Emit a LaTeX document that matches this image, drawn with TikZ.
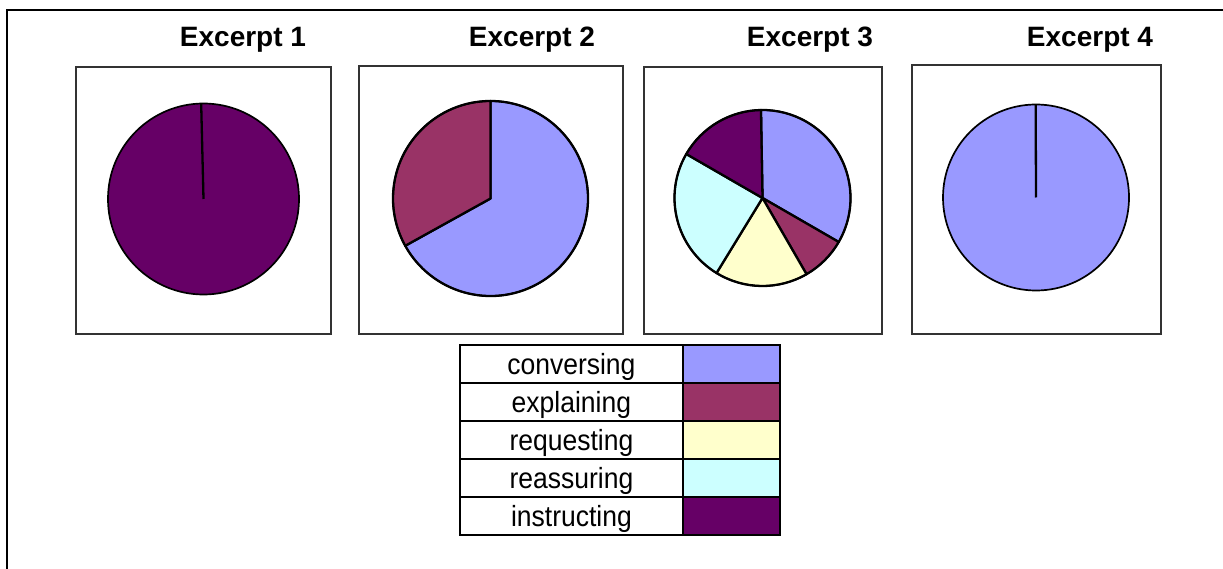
\documentclass[tikz,border=0pt]{standalone}
\usepackage{fontspec}
\usepackage{graphicx}
\setmainfont{Liberation Sans}
\definecolor{conversing}{HTML}{9999FF}
\definecolor{explaining}{HTML}{993366}
\definecolor{requesting}{HTML}{FFFFCC}
\definecolor{reassuring}{HTML}{CCFFFF}
\definecolor{instructing}{HTML}{660066}
% one slice of a pie: centre, radius, start angle, end angle, colour
\newcommand{\pieslice}[5]{%
  \filldraw[slice, fill=#5] (#1) -- ++(#3:#2) arc[start angle=#3, end angle=#4, radius=#2] -- cycle;}
% legend label, set slightly tall
\newcommand{\leglabel}[1]{\scalebox{1}[1.1]{#1}}
\begin{document}
\begin{tikzpicture}[x=1pt, y=1pt,
  frame/.style={line width=2pt, black},
  panel/.style={draw=black!80, line width=1.3pt, fill=white},
  title/.style={font=\fontsize{28}{30}\selectfont\bfseries, anchor=base, inner sep=0pt},
  slice/.style={draw=black, line width=2.3pt, line join=round},
  rim/.style={draw=black, line width=1.7pt},
  legcell/.style={draw=black, line width=1.8pt, fill=white, minimum width=223pt, minimum height=38pt,
    inner sep=0pt, anchor=north west},
  legtext/.style={font=\fontsize{26.5}{28}\selectfont, anchor=base, inner sep=0pt},
  legswatch/.style={draw=black, line width=1.8pt, minimum width=97pt, minimum height=38pt,
    inner sep=0pt, anchor=north west}]
\useasboundingbox (0,0) rectangle (1223,-569);

% outer frame (only its left and top sides fall inside the page)
\draw[frame] (7,-569) -- (7,-10) -- (1223,-10);

% titles
\node[title] (t1) at (243,-47) {Excerpt 1};
\node[title] (t2) at (532,-47) {Excerpt 2};
\node[title] (t3) at (810,-47) {Excerpt 3};
\node[title] (t4) at (1090,-47) {Excerpt 4};

% chart panels
\draw[panel] (76,-67) rectangle (331,-334);
\draw[panel] (359,-66) rectangle (623,-334);
\draw[panel] (644,-67) rectangle (882,-334);
\draw[panel] (912,-65) rectangle (1161,-334);

% Excerpt 1: instructing only
\coordinate (c1) at (203.5,-199);
\fill[instructing] (c1) circle[radius=95.5];
\draw[slice] (c1) -- ++(91.4:95.5);
\draw[rim] (c1) circle[radius=95.5];

% Excerpt 2: conversing and explaining
\coordinate (c2) at (490.5,-198.5);
\pieslice{c2}{97.5}{-151}{90}{conversing}
\pieslice{c2}{97.5}{90}{209}{explaining}
\draw[rim] (c2) circle[radius=97.5];

% Excerpt 3: five behaviours
\coordinate (c3) at (762.5,-198);
\pieslice{c3}{88}{-30}{91}{conversing}
\pieslice{c3}{88}{-60}{-30}{explaining}
\pieslice{c3}{88}{-121.5}{-60}{requesting}
\pieslice{c3}{88}{150}{238.5}{reassuring}
\pieslice{c3}{88}{91}{150}{instructing}
\draw[rim] (c3) circle[radius=88];

% Excerpt 4: conversing only
\coordinate (c4) at (1036,-197.5);
\fill[conversing] (c4) circle[radius=93];
\draw[slice] (c4) -- ++(90.2:93);
\draw[rim] (c4) circle[radius=93];

% legend: label cells, labels and colour swatches
\node[legcell] (l1) at (459,-344) {};
\node[legcell] (l2) at (459,-382) {};
\node[legcell] (l3) at (459,-420) {};
\node[legcell] (l4) at (459,-458) {};
\node[legcell] (l5) at (459,-496) {};
\node[legtext] (n1) at ([yshift=-30.5pt]l1.north) {\leglabel{conversing}};
\node[legtext] (n2) at ([yshift=-30.5pt]l2.north) {\leglabel{explaining}};
\node[legtext] (n3) at ([yshift=-30.5pt]l3.north) {\leglabel{requesting}};
\node[legtext] (n4) at ([yshift=-30.5pt]l4.north) {\leglabel{reassuring}};
\node[legtext] (n5) at ([yshift=-30.5pt]l5.north) {\leglabel{instructing}};
\node[legswatch, fill=conversing] (s1) at (682,-344) {};
\node[legswatch, fill=explaining] (s2) at (682,-382) {};
\node[legswatch, fill=requesting] (s3) at (682,-420) {};
\node[legswatch, fill=reassuring] (s4) at (682,-458) {};
\node[legswatch, fill=instructing] (s5) at (682,-496) {};
\end{tikzpicture}
\end{document}
